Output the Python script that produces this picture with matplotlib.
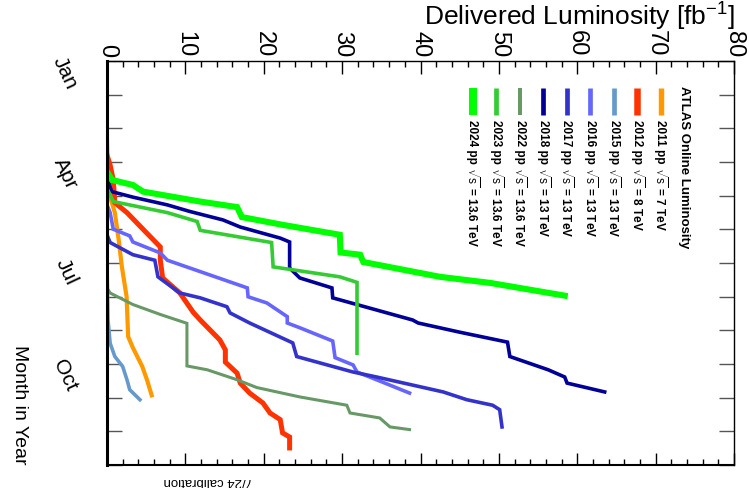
import matplotlib
matplotlib.use('Agg')
import matplotlib.pyplot as plt
from matplotlib.ticker import MultipleLocator
import numpy as np

plt.rcParams['font.family'] = ['Liberation Sans', 'DejaVu Sans']
plt.rcParams['mathtext.fontset'] = 'custom'
plt.rcParams['mathtext.rm'] = 'Liberation Sans'
plt.rcParams['mathtext.it'] = 'Liberation Sans:italic'
plt.rcParams['mathtext.bf'] = 'Liberation Sans:bold'

# --- data: day of year / delivered luminosity [fb^-1] ---
years = ['2011', '2012', '2015', '2016', '2017', '2018', '2022', '2023', '2024']
energies = ['7', '8', '13', '13', '13', '13', '13.6', '13.6', '13.6']
colors = ['#FF9900', '#FF3300', '#6699CC', '#6666FF', '#3333CC', '#000099',
          '#669966', '#33CC33', '#00FF00']
widths = [3.0, 3.6, 2.6, 2.6, 2.6, 2.6, 2.2, 2.6, 4.4]

day_2011 = [71, 103, 123, 137, 162, 186, 213, 249, 259, 276, 288, 302]
lumi_2011 = [0, 0.13, 0.4, 1.0, 1.5, 1.9, 2.5, 2.7, 3.3, 4.5, 5.1, 5.7]

day_2012 = [85, 94, 107.5, 128, 137, 152, 168, 180, 196, 209.6, 227, 234, 252, 261,
            272, 282, 291, 300, 309, 318, 324, 336, 339.7, 349.6]
lumi_2012 = [0, 0.4, 0.8, 1.0, 2.55, 4.6, 6.8, 6.8, 7.1, 9.3, 11.0, 11.9, 14.4, 15.1,
             15.1, 16.6, 17.0, 18.2, 19.9, 20.8, 22.1, 22.4, 23.3, 23.3]

day_2015 = [184, 234, 255, 267, 276, 288, 297, 306]
lumi_2015 = [0, 0.13, 0.4, 1.0, 2.0, 2.55, 2.9, 4.2]

day_2016 = [130, 137, 152, 158, 163.5, 173.4, 180, 205, 213, 218.6, 231, 236.7, 241,
            253, 268, 274.6, 281, 288, 300]
lumi_2016 = [0, 0.4, 0.8, 2.9, 3.3, 6.8, 7.7, 17.9, 18.0, 20.4, 23.0, 23.0, 24.6,
             28.8, 29.1, 31.4, 31.9, 34.4, 38.6]

day_2017 = [157, 164, 175, 180, 195, 209.6, 214, 222, 227.6, 236.7, 254.7, 267, 281,
            285.5, 299, 306, 311, 315, 330.6]
lumi_2017 = [0, 0.4, 3.3, 6.1, 6.5, 9.3, 11.9, 15.3, 15.7, 18.2, 23.7, 24.2, 31.4,
             34.4, 42.9, 45.9, 49.2, 50.1, 50.4]

day_2018 = [105.7, 118, 123, 130, 136, 143.6, 150, 160, 163.5, 187, 196, 205, 214,
            234, 236.7, 245, 254, 267, 279, 285.5, 291, 299]
lumi_2018 = [0, 0.6, 3.3, 7.7, 10.6, 14.8, 17.0, 22.1, 23.3, 23.3, 24.6, 28.7, 28.8,
             39.0, 39.7, 45.0, 51.1, 51.4, 56.3, 58.4, 58.7, 63.5]

day_2022 = [205, 209.6, 220, 229, 237, 275.5, 279, 288, 295, 303.5, 311, 318, 322.5,
            330.6, 333]
lumi_2022 = [0, 0.4, 3.3, 6.8, 10.2, 10.2, 12.8, 16.6, 19.1, 24.6, 30.6, 31.0, 34.8,
             36.1, 38.6]

day_2023 = [115, 127, 137, 145, 153, 164, 186, 195, 200, 264]
lumi_2023 = [0, 0.8, 7.7, 11.5, 11.9, 21.0, 21.2, 29.7, 31.9, 31.9]

day_2024 = [100, 107.5, 112, 118, 127, 132, 141, 148, 157, 173, 175, 181.6, 195,
            200.5, 212]
lumi_2024 = [0, 0.64, 3.3, 4.6, 11.9, 16.6, 17.2, 22.4, 29.7, 29.8, 32.3, 32.7, 42.5,
             48.9, 58.4]

days = [day_2011, day_2012, day_2015, day_2016, day_2017, day_2018, day_2022, day_2023, day_2024]
lumis = [lumi_2011, lumi_2012, lumi_2015, lumi_2016, lumi_2017, lumi_2018, lumi_2022, lumi_2023, lumi_2024]

month_labels = ['Jan', '', '', 'Apr', '', '', 'Jul', '', '', 'Oct', '', '', '']

W, H = 749, 488
fig = plt.figure(figsize=(W / 100, H / 100), dpi=100)
ax = fig.add_axes([107 / W, 1 - 465 / H, (734 - 107) / W, (465 - 61) / H])

for d, l, c, lw in zip(days, lumis, colors, widths):
    ax.plot(l, np.array(d) / 365 * 12, color=c, lw=lw, solid_joinstyle='miter')

ax.set_xlim(0, 80)
ax.set_ylim(12, 0)

# luminosity axis on top
ax.xaxis.tick_top()
ax.set_xticks(range(0, 81, 10))
ax.xaxis.set_minor_locator(MultipleLocator(2))
ax.tick_params(axis='x', which='both', direction='in', top=True, bottom=True,
               labeltop=True, labelbottom=False, labelrotation=-90, labelsize=17, pad=3)
ax.tick_params(axis='x', which='major', length=9, width=1)
ax.tick_params(axis='x', which='minor', length=4.5, width=1)

# month axis
ax.set_yticks(range(13))
ax.set_yticklabels(month_labels)
ax.tick_params(axis='y', direction='in', left=True, right=True, length=11, width=1,
               color='#555555', labelrotation=-65, labelsize=15, pad=19)

ax.spines['left'].set_linewidth(2.2)
ax.spines['bottom'].set_linewidth(1.5)
ax.spines['top'].set_linewidth(1.0)
ax.spines['right'].set_linewidth(1.0)

fig.text(735 / W, 1 - 17 / H, 'Delivered Luminosity [fb$^{-1}$]', fontsize=19,
         ha='right', va='center')
fig.text(19 / W, 1 - 405 / H, 'Month in Year', fontsize=14, rotation=-90,
         ha='center', va='center')
fig.text(208 / W, 1 - 481 / H, '7/24 calibration', fontsize=9.5, rotation=180,
         ha='center', va='center')

# legend drawn by hand (rotated)
fig.text(684 / W, 1 - 86 / H, 'ATLAS Online Luminosity', fontsize=9.5,
         fontweight='bold', rotation=-90, ha='center', va='top')
x0, dx = 660.5, 23.5
for i, (yr, e, c, lw) in enumerate(zip(years, energies, colors, widths)):
    x = x0 - i * dx
    fig.add_artist(plt.Line2D([x / W, x / W], [1 - 88 / H, 1 - 115 / H],
                              color=c, lw=lw * 1.3, solid_capstyle='butt'))
    fig.text(x / W, 1 - 120 / H, yr + ' pp', fontsize=8.5, fontweight='bold',
             rotation=-90, ha='center', va='top')
    fig.text(x / W, 1 - 167 / H, r'$\sqrt{\mathrm{s}}$ = ' + e + ' TeV', fontsize=8.5,
             fontweight='bold', rotation=-90, ha='center', va='top')

fig.savefig('out.png', dpi=100)
